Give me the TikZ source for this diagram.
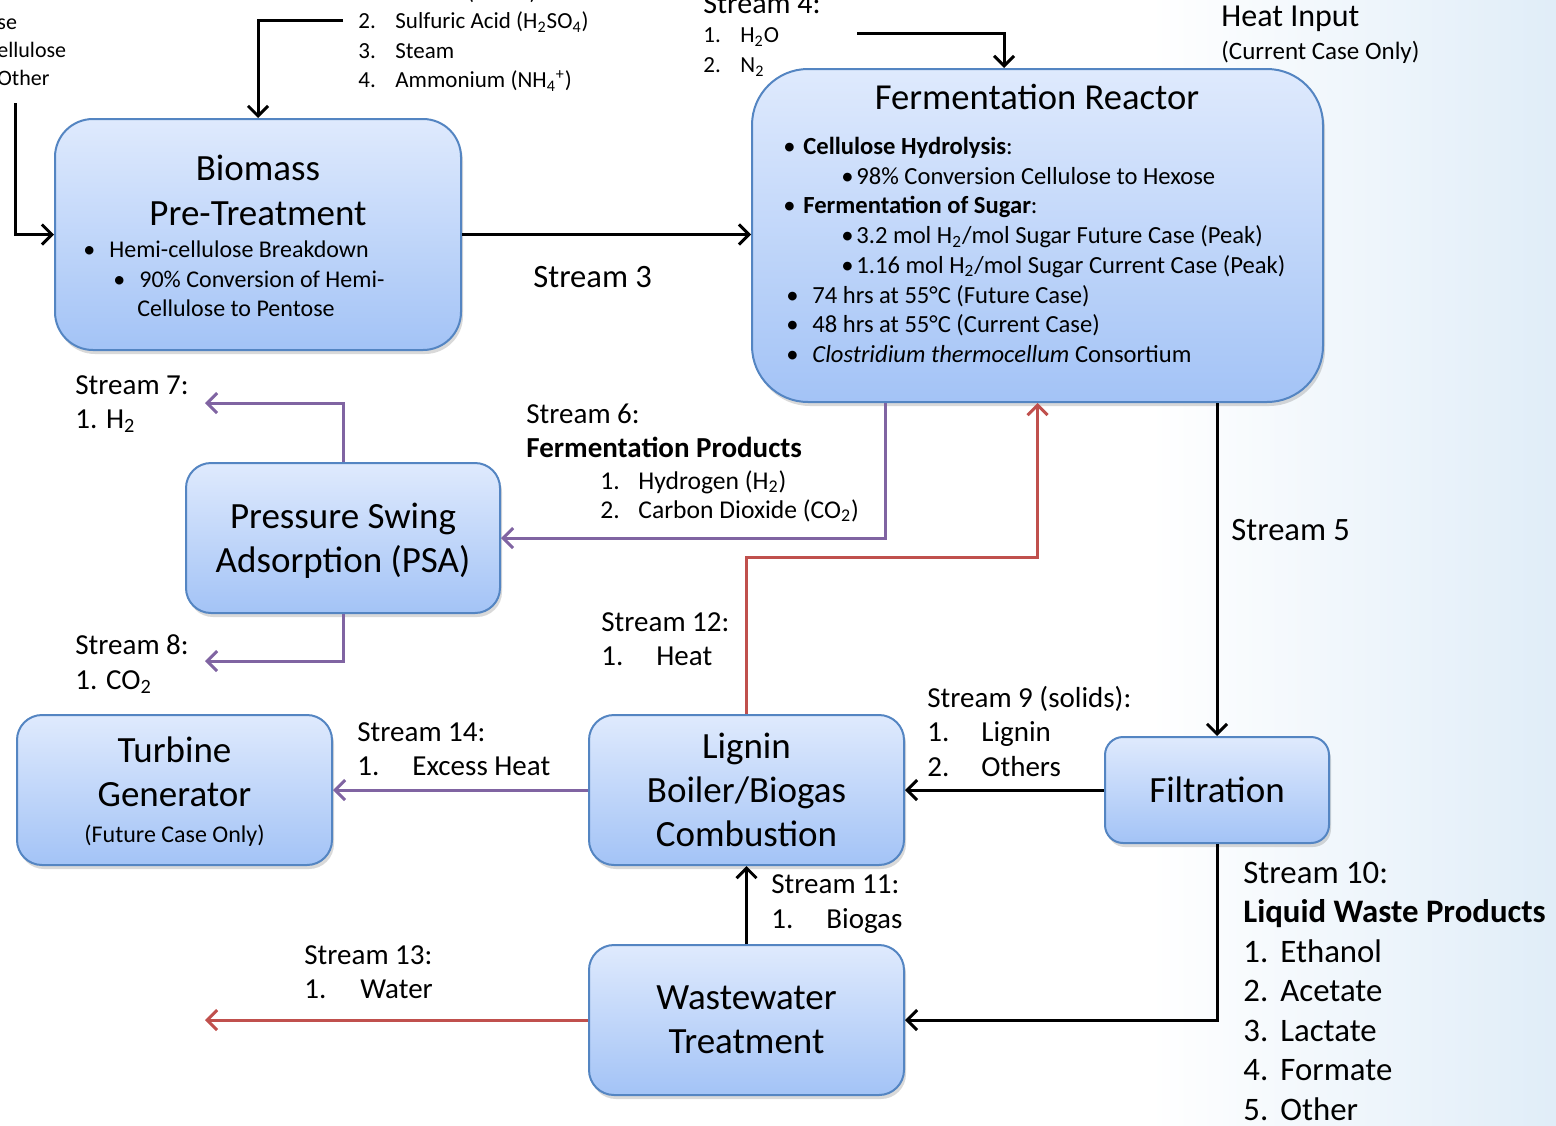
\documentclass[tikz,border=0pt]{standalone}
\usepackage{fontspec}
\setmainfont{Carlito}
\usepackage{tikz}
\usetikzlibrary{calc,arrows.meta,shadows}

\definecolor{boxtop}{RGB}{223,234,253}
\definecolor{boxbot}{RGB}{163,195,246}
\definecolor{boxline}{RGB}{84,133,194}
\definecolor{flowred}{RGB}{192,80,77}
\definecolor{flowpurple}{RGB}{128,100,162}
\definecolor{bgblue}{RGB}{224,237,248}

\newcommand{\fs}[2]{\fontsize{#1}{#2}\selectfont}
\newcommand{\num}[2]{\makebox[#1][l]{#2}}

\begin{document}
\begin{tikzpicture}[x=0.5pt,y=-0.5pt,
    box/.style={draw=boxline,line width=1pt,top color=boxtop,bottom color=boxbot,
        inner sep=0pt,align=center,font=\fs{18.5}{22},text depth=0pt,
        drop shadow={opacity=0.3,shadow xshift=1pt,shadow yshift=-2pt}},
    flow/.style={line width=1.5pt,-{Straight Barb[length=5pt,width=10pt]}},
    redflow/.style={flow,draw=flowred},
    purpleflow/.style={flow,draw=flowpurple},
    lbl/.style={inner sep=0pt,anchor=west,align=left,font=\fs{14.5}{17.25}}]
    \useasboundingbox (0,0) rectangle (1556,1125);
    \shade[left color=white,right color=bgblue] (1150,0) rectangle (1556,1125);

    \node[box,minimum width=203pt,minimum height=115.5pt,rounded corners=19pt] (bio) at (258,234.5) {};
    \node[box,minimum width=285.5pt,minimum height=166.5pt,rounded corners=28pt] (reac) at (1037.5,235.5) {};
    \node[box,minimum width=157pt,minimum height=75pt,rounded corners=12.5pt] (psa) at (343,538) {Pressure Swing\\Adsorption (PSA)};
    \node[box,minimum width=157.5pt,minimum height=75pt,rounded corners=12.5pt] (turb) at (174.5,790) {Turbine\\Generator\\[-4pt]{\fs{12}{14}(Future Case Only)}};
    \node[box,minimum width=157.5pt,minimum height=75pt,rounded corners=12.5pt] (lig) at (746.5,790) {Lignin\\Boiler/Biogas\\Combustion};
    \node[box,minimum width=112pt,minimum height=53pt,rounded corners=9pt] (filt) at (1217,790) {Filtration};
    \node[box,minimum width=157.5pt,minimum height=75pt,rounded corners=12.5pt] (ww) at (746.5,1020) {Wastewater\\Treatment};

    \node[align=center,inner sep=0pt,font=\fs{18.5}{22.5}] (biotitle) at (258,190) {Biomass\\Pre-Treatment};
    \node[lbl,font=\fs{12}{14.75}] (biolist) at (83,279) {\num{13pt}{\textbullet}Hemi-cellulose Breakdown\\
        \hspace*{15pt}\num{13pt}{\textbullet}90\% Conversion of Hemi-\\
        \hspace*{27pt}Cellulose to Pentose};
    \node[inner sep=0pt,font=\fs{18.3}{22}] (reactitle) at (1037,97) {Fermentation Reactor};
    \node[lbl,font=\fs{12.3}{14.85}] (reaclist) at (783,250) {\num{10pt}{\textbullet}\textbf{Cellulose Hydrolysis}:\\
        \hspace*{29pt}\num{7.5pt}{\textbullet}98\% Conversion Cellulose to Hexose\\
        \num{10pt}{\textbullet}\textbf{Fermentation of Sugar}:\\
        \hspace*{29pt}\num{7.5pt}{\textbullet}3.2 mol H\textsubscript{2}/mol Sugar Future Case (Peak)\\
        \hspace*{29pt}\num{7.5pt}{\textbullet}1.16 mol H\textsubscript{2}/mol Sugar Current Case (Peak)\\
        \hspace*{1.5pt}\num{13pt}{\textbullet}74 hrs at 55°C (Future Case)\\
        \hspace*{1.5pt}\num{13pt}{\textbullet}48 hrs at 55°C (Current Case)\\
        \hspace*{1.5pt}\num{13pt}{\textbullet}\textit{Clostridium thermocellum} Consortium};

    \node[lbl,font=\fs{11}{14}] (feedleft) at (-3,52) {se\\ellulose\\Other};
    \node[lbl,font=\fs{11.5}{14.75}] (feedtop) at (358,37) {\num{18.5pt}{1.}Caustic (NaOH)\\
        \num{18.5pt}{2.}Sulfuric Acid (H\textsubscript{2}SO\textsubscript{4})\\
        \num{18.5pt}{3.}Steam\\
        \num{18.5pt}{4.}Ammonium (NH\textsubscript{4}\textsuperscript{+})};
    \node[lbl,font=\fs{15}{17}] (s4lab) at (703,4) {Stream 4:};
    \node[lbl,font=\fs{11.5}{15}] (s4list) at (703,52) {\num{18.5pt}{1.}H\textsubscript{2}O\\\num{18.5pt}{2.}N\textsubscript{2}};
    \node[lbl,font=\fs{16}{18}] (heatlab) at (1221,19) {Heat Input};
    \node[lbl,font=\fs{12.5}{15}] (heatnote) at (1221,52) {(Current Case Only)};

    \node[lbl,font=\fs{16.3}{19}] (s3lab) at (533,277) {Stream 3};
    \node[lbl,font=\fs{16.3}{19}] (s5lab) at (1231,530) {Stream 5};
    \node[lbl] (s7lab) at (75,404) {Stream 7:\\1. H\textsubscript{2}};
    \node[lbl] (s8lab) at (75,664) {Stream 8:\\1. CO\textsubscript{2}};
    \node[lbl] (s6lab) at (526,431) {Stream 6:\\\textbf{Fermentation Products}};
    \node[lbl,font=\fs{12.8}{14.5}] (s6list) at (600,496) {\num{19pt}{1.}Hydrogen (H\textsubscript{2})\\\num{19pt}{2.}Carbon Dioxide (CO\textsubscript{2})};
    \node[lbl] (s12lab) at (601,639) {Stream 12:\\\num{27.5pt}{1.}Heat};
    \node[lbl] (s9lab) at (927,731) {Stream 9 (solids):\\\num{27pt}{1.}Lignin\\\num{27pt}{2.}Others};
    \node[lbl] (s14lab) at (357,749) {Stream 14:\\\num{27.5pt}{1.}Excess Heat};
    \node[lbl] (s11lab) at (771,904) {Stream 11:\\\num{27.5pt}{1.}Biogas};
    \node[lbl] (s13lab) at (304,972) {Stream 13:\\\num{28pt}{1.}Water};
    \node[lbl,font=\fs{16.4}{19.75}] (s10lab) at (1243,991) {Stream 10:\\\textbf{Liquid Waste Products}\\
        \num{18.5pt}{1.}Ethanol\\\num{18.5pt}{2.}Acetate\\\num{18.5pt}{3.}Lactate\\\num{18.5pt}{4.}Formate\\\num{18.5pt}{5.}Other};

    \coordinate (inleft) at (15,103);
    \coordinate (intop) at (343,20);
    \coordinate (in4) at (857,33);
    \coordinate (out7) at (205,403);
    \coordinate (out8) at (205,661);
    \coordinate (out13) at (205,1020);

    \draw[flow] (inleft) |- (bio.west);
    \draw[flow] (intop) -| (bio.north);
    \draw[flow] (in4) -| ([xshift=-16.75pt]reac.north);
    \draw[flow] (bio.east) -- (bio.east -| reac.west);
    \draw[purpleflow] ([xshift=-76.25pt]reac.south) |- (psa.east);
    \draw[purpleflow] (psa.north) |- (out7);
    \draw[purpleflow] (psa.south) |- (out8);
    \draw[flow] (filt.north |- reac.south) -- (filt.north);
    \draw[flow] (filt.west) -- (lig.east);
    \draw[flow] (filt.south) |- (ww.east);
    \draw[flow] (ww.north) -- (lig.south);
    \draw[redflow] (lig.north) -- ++(0,-157) -| (reac.south);
    \draw[redflow] (ww.west) -- (out13);
    \draw[purpleflow] (lig.west) -- (turb.east);
\end{tikzpicture}
\end{document}
